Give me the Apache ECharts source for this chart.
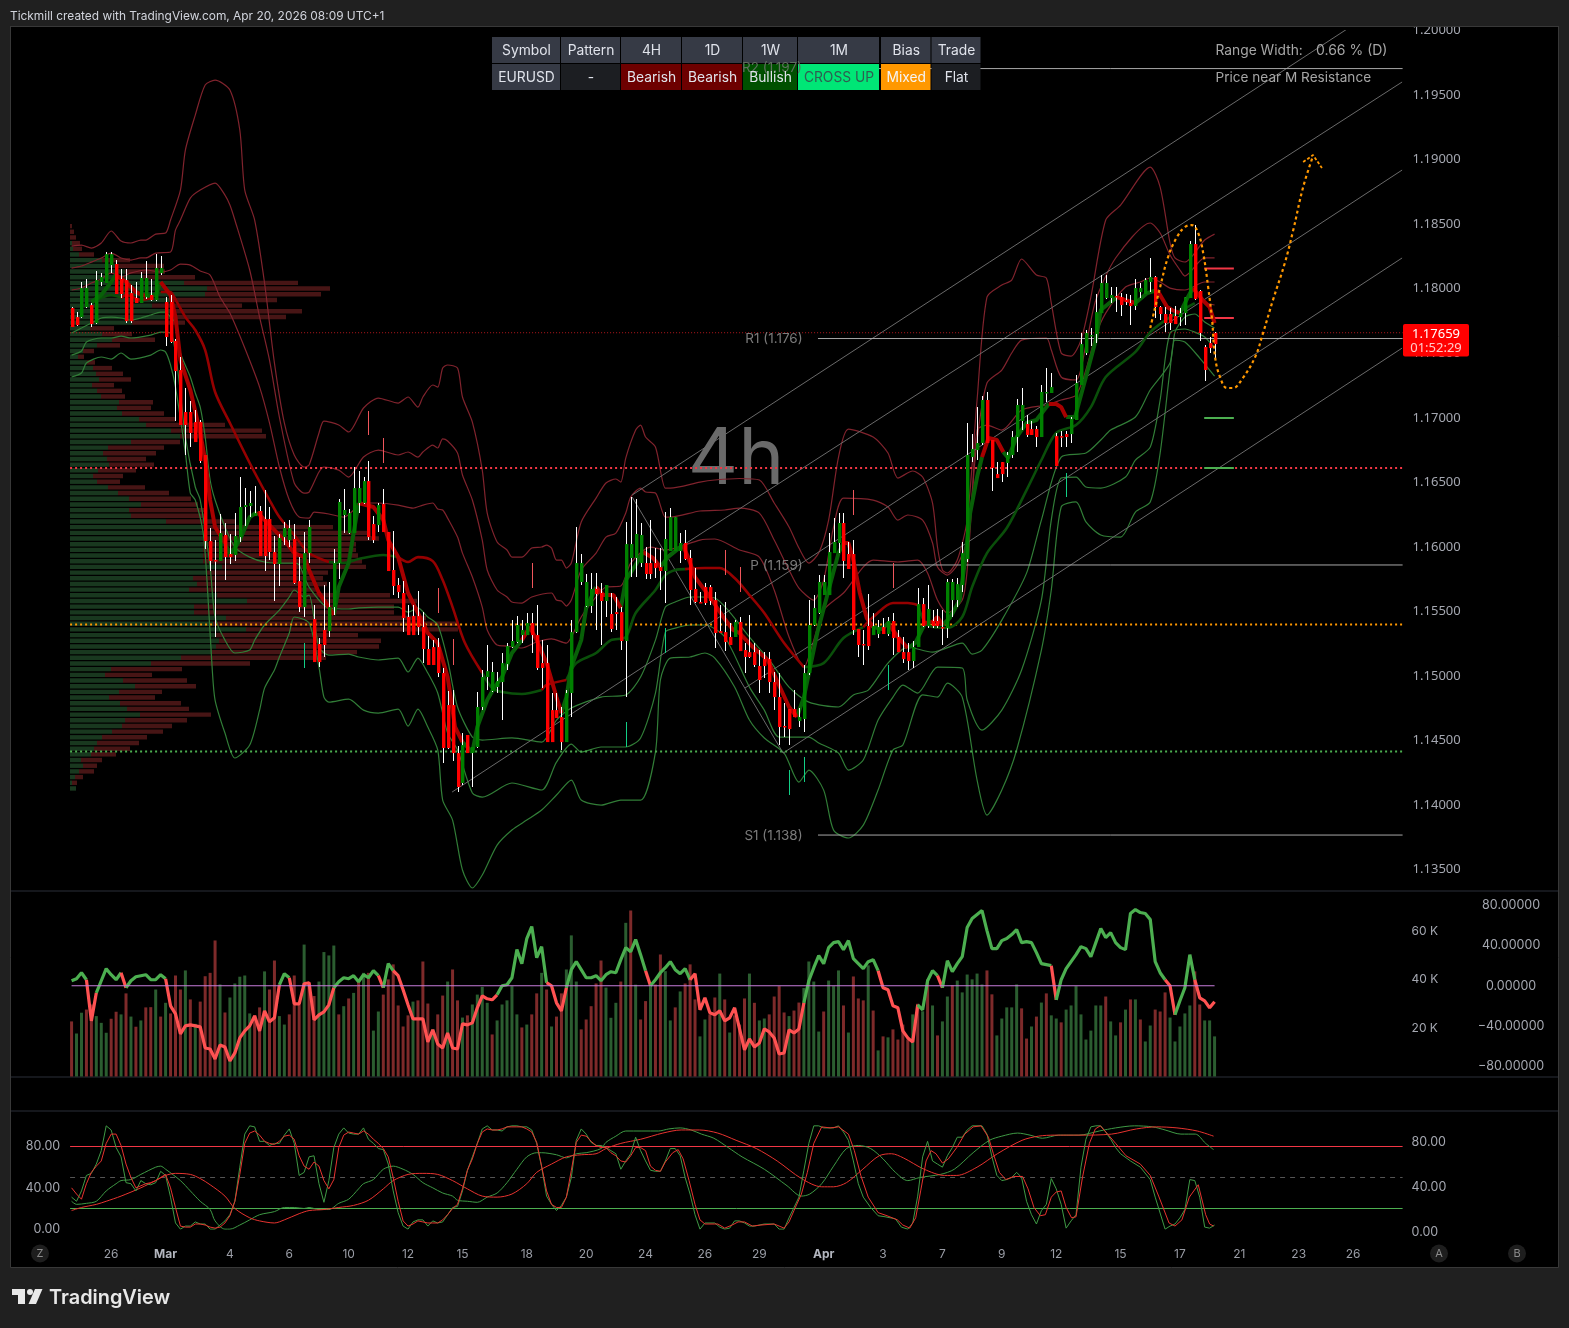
<!DOCTYPE html>
<html><head><meta charset="utf-8"><title>EURUSD 4h</title>
<style>html,body{margin:0;padding:0;background:#202020}#c{width:1569px;height:1328px}</style>
<script src="https://cdn.jsdelivr.net/npm/echarts@6/dist/echarts.min.js"></script></head>
<body><div id="c"></div>
<script>
// [open, high, low, close] per 4h bar
const candles=[
[1.17850,1.17858,1.17703,1.17703],[1.17780,1.17819,1.17711,1.17718],[1.17780,1.18052,1.17773,1.18005],[1.17858,1.18075,1.17850,1.18005],[1.17873,1.17889,1.17703,1.17726],
[1.17734,1.18137,1.17726,1.18067],[1.18052,1.18121,1.18021,1.18090],[1.18044,1.18284,1.18044,1.18268],[1.18183,1.18284,1.18121,1.18268],[1.18191,1.18222,1.17959,1.17959],
[1.18075,1.18152,1.17928,1.17959],[1.18067,1.18152,1.17734,1.17749],[1.17966,1.18029,1.17734,1.17749],[1.17928,1.18052,1.17889,1.17889],[1.17889,1.18129,1.17889,1.18083],
[1.17935,1.18214,1.17920,1.18083],[1.17951,1.18075,1.17905,1.17912],[1.17912,1.18268,1.17905,1.18160],[1.18121,1.18253,1.18106,1.18160],[1.17897,1.17935,1.17556,1.17626],
[1.17897,1.17951,1.17579,1.17587],[1.17595,1.17610,1.16975,1.17362],[1.17370,1.17471,1.16944,1.16944],[1.17045,1.17231,1.16712,1.16944],[1.17045,1.17130,1.16774,1.16882],
[1.16967,1.17060,1.16812,1.16812],[1.16967,1.16983,1.16650,1.16665],[1.16712,1.16712,1.15983,1.16045],[1.16045,1.16146,1.15813,1.15891],[1.15898,1.16053,1.15302,1.15891],
[1.15891,1.16254,1.15891,1.16107],[1.16092,1.16185,1.15743,1.15921],[1.15945,1.16100,1.15867,1.15921],[1.15937,1.16262,1.15891,1.16084],[1.16076,1.16541,1.16038,1.16309],
[1.16309,1.16456,1.16162,1.16324],[1.16317,1.16433,1.16231,1.16340],[1.16239,1.16471,1.16239,1.16262],[1.16278,1.16317,1.15929,1.15929],[1.16216,1.16440,1.15813,1.15929],
[1.16216,1.16309,1.15898,1.15960],[1.15960,1.16084,1.15581,1.15867],[1.15867,1.16100,1.15697,1.16069],[1.16076,1.16193,1.16014,1.16146],[1.16053,1.16208,1.15999,1.16146],
[1.16061,1.16177,1.15712,1.15720],[1.15735,1.15921,1.15495,1.15534],[1.15534,1.16115,1.15457,1.15952],[1.15952,1.16208,1.15875,1.16154],[1.15441,1.15550,1.15108,1.15108],
[1.15248,1.15294,1.15069,1.15108],[1.15356,1.15705,1.15147,1.15240],[1.15348,1.15728,1.15302,1.15534],[1.15534,1.15984,1.15472,1.15875],[1.15875,1.16371,1.15751,1.16348],
[1.16247,1.16448,1.16107,1.16286],[1.16107,1.16293,1.16100,1.16262],[1.16107,1.16618,1.16107,1.16456],[1.16340,1.16588,1.16262,1.16456],[1.16340,1.16541,1.16332,1.16510],
[1.16510,1.16665,1.16053,1.16076],[1.16177,1.16239,1.16030,1.16053],[1.16169,1.16340,1.16115,1.16324],[1.16332,1.16448,1.16115,1.16115],[1.16115,1.16115,1.15813,1.15813],
[1.15821,1.16123,1.15627,1.15697],[1.15705,1.15759,1.15604,1.15650],[1.15643,1.15735,1.15341,1.15449],[1.15457,1.15550,1.15317,1.15317],[1.15464,1.15550,1.15317,1.15317],
[1.15464,1.15658,1.15317,1.15379],[1.15379,1.15495,1.15100,1.15209],[1.15209,1.15310,1.15085,1.15085],[1.15224,1.15278,1.15085,1.15085],[1.15224,1.15294,1.14992,1.15023],
[1.15023,1.15062,1.14326,1.14442],[1.14775,1.14883,1.14434,1.14442],[1.14775,1.14891,1.14341,1.14403],[1.14403,1.14457,1.14101,1.14140],[1.14171,1.14558,1.14155,1.14465],
[1.14543,1.14543,1.14403,1.14403],[1.14403,1.14450,1.14140,1.14450],[1.14450,1.14876,1.14442,1.14760],[1.14760,1.15046,1.14736,1.14992],[1.14992,1.15240,1.14891,1.15038],
[1.14884,1.15108,1.14876,1.15031],[1.14915,1.15031,1.14868,1.14961],[1.14953,1.15178,1.14659,1.15100],[1.15092,1.15255,1.15046,1.15232],[1.15224,1.15433,1.15216,1.15271],
[1.15263,1.15464,1.15255,1.15395],[1.15317,1.15433,1.15255,1.15356],[1.15317,1.15488,1.15317,1.15410],[1.15410,1.15488,1.15178,1.15317],[1.15317,1.15550,1.15046,1.15062],
[1.15100,1.15278,1.14907,1.15062],[1.15100,1.15240,1.14488,1.14488],[1.14736,1.14868,1.14488,1.14488],[1.14736,1.14868,1.14674,1.14674],[1.14682,1.14760,1.14426,1.14488],
[1.14488,1.14891,1.14488,1.14868],[1.14868,1.15433,1.14682,1.15340],[1.15340,1.16154,1.15333,1.15875],[1.15728,1.15945,1.15705,1.15875],[1.15542,1.15790,1.15534,1.15728],
[1.15542,1.15797,1.15488,1.15674],[1.15674,1.15797,1.15356,1.15635],[1.15643,1.15720,1.15240,1.15581],[1.15581,1.15705,1.15457,1.15705],[1.15480,1.15643,1.15341,1.15364],
[1.15495,1.15612,1.15356,1.15480],[1.15495,1.15534,1.15201,1.15271],[1.15271,1.16193,1.14837,1.16022],[1.15914,1.16386,1.15767,1.16022],[1.15914,1.16371,1.15767,1.16100],
[1.15875,1.16185,1.15844,1.16092],[1.15875,1.15999,1.15751,1.15790],[1.15875,1.16208,1.15751,1.15790],[1.15875,1.15991,1.15759,1.15836],[1.15844,1.15991,1.15666,1.15813],
[1.15813,1.16270,1.15565,1.16061],[1.15968,1.16301,1.15968,1.16231],[1.15968,1.16231,1.15968,1.16231],[1.15968,1.16107,1.15875,1.16030],[1.16030,1.16131,1.15898,1.15906],
[1.15914,1.15976,1.15550,1.15666],[1.15674,1.15836,1.15565,1.15573],[1.15573,1.15650,1.15565,1.15565],[1.15689,1.15720,1.15550,1.15565],[1.15689,1.15705,1.15550,1.15581],
[1.15588,1.15650,1.15217,1.15333],[1.15348,1.15550,1.15333,1.15333],[1.15340,1.15573,1.15193,1.15263],[1.15302,1.15410,1.15240,1.15240],[1.15302,1.15433,1.15302,1.15418],
[1.15418,1.15457,1.15193,1.15193],[1.15201,1.15255,1.15023,1.15147],[1.15185,1.15472,1.15139,1.15147],[1.15185,1.15255,1.15069,1.15085],[1.15077,1.15201,1.14868,1.14969],
[1.15131,1.15185,1.14984,1.15077],[1.15131,1.15185,1.14868,1.14953],[1.14953,1.15031,1.14736,1.14837],[1.14837,1.15023,1.14465,1.14605],[1.14613,1.14790,1.14527,1.14605],
[1.14744,1.14744,1.14465,1.14589],[1.14744,1.14891,1.14682,1.14682],[1.14651,1.14752,1.14605,1.14682],[1.14667,1.15085,1.14566,1.15023],[1.15023,1.15588,1.15008,1.15395],
[1.15395,1.15627,1.15387,1.15527],[1.15488,1.15782,1.15480,1.15728],[1.15627,1.15782,1.15627,1.15728],[1.15627,1.16107,1.15627,1.15960],[1.15952,1.16224,1.15952,1.16038],
[1.16030,1.16262,1.15952,1.16185],[1.16185,1.16262,1.15759,1.15891],[1.15945,1.16038,1.15829,1.15829],[1.15945,1.16053,1.15317,1.15356],[1.15364,1.15364,1.15147,1.15240],
[1.15248,1.15356,1.15085,1.15240],[1.15387,1.15635,1.15201,1.15232],[1.15317,1.15488,1.15317,1.15387],[1.15325,1.15433,1.15294,1.15379],[1.15379,1.15449,1.15325,1.15325],
[1.15325,1.15457,1.15310,1.15426],[1.15426,1.15488,1.15162,1.15294],[1.15302,1.15356,1.15185,1.15185],[1.15185,1.15302,1.15100,1.15131],[1.15185,1.15255,1.15046,1.15116],
[1.15116,1.15271,1.15062,1.15224],[1.15224,1.15681,1.15224,1.15557],[1.15557,1.15604,1.15379,1.15387],[1.15387,1.15705,1.15371,1.15519],[1.15426,1.15511,1.15371,1.15387],
[1.15426,1.15519,1.15371,1.15387],[1.15379,1.15511,1.15240,1.15371],[1.15371,1.15751,1.15294,1.15728],[1.15588,1.15751,1.15457,1.15728],[1.15588,1.15759,1.15534,1.15712],
[1.15705,1.16038,1.15650,1.15952],[1.15906,1.16960,1.15883,1.16712],[1.16696,1.16874,1.16657,1.16758],[1.16750,1.17083,1.16673,1.16805],[1.16805,1.17169,1.16789,1.17138],
[1.17138,1.17200,1.16805,1.16805],[1.16828,1.16828,1.16433,1.16611],[1.16564,1.16657,1.16533,1.16533],[1.16657,1.16657,1.16502,1.16564],[1.16650,1.16735,1.16541,1.16712],
[1.16712,1.16897,1.16688,1.16851],[1.16851,1.17145,1.16735,1.17099],[1.16975,1.17231,1.16905,1.17099],[1.16952,1.17021,1.16851,1.16867],[1.16913,1.16975,1.16867,1.16867],
[1.16913,1.16936,1.16774,1.16851],[1.16851,1.17254,1.16851,1.17200],[1.17192,1.17385,1.17122,1.17200],[1.17192,1.17347,1.17192,1.17238],[1.16858,1.16882,1.16626,1.16626],
[1.16858,1.16897,1.16774,1.16851],[1.16874,1.16897,1.16774,1.16851],[1.16874,1.17006,1.16805,1.16991],[1.16983,1.17331,1.16983,1.17269],[1.17254,1.17657,1.17254,1.17571],
[1.17502,1.17680,1.17486,1.17657],[1.17633,1.17695,1.17556,1.17641],[1.17649,1.17959,1.17579,1.17819],[1.17811,1.18106,1.17811,1.18044],[1.17928,1.18106,1.17920,1.18044],
[1.17928,1.18013,1.17889,1.17951],[1.17943,1.18013,1.17819,1.17935],[1.17935,1.17966,1.17788,1.17873],[1.17912,1.17959,1.17873,1.17897],[1.17889,1.17951,1.17718,1.17866],
[1.17866,1.18075,1.17835,1.18005],[1.17974,1.18044,1.17928,1.18005],[1.17959,1.18083,1.17959,1.18067],[1.18052,1.18238,1.17974,1.18090],[1.18090,1.18098,1.17773,1.17858],
[1.17858,1.17866,1.17757,1.17804],[1.17804,1.17858,1.17664,1.17734],[1.17804,1.17850,1.17680,1.17734],[1.17788,1.17866,1.17726,1.17726],[1.17780,1.17850,1.17711,1.17811],
[1.17811,1.17935,1.17718,1.17935],[1.17928,1.18369,1.17928,1.18346],[1.18346,1.18493,1.17912,1.17920],[1.17982,1.17990,1.17595,1.17657],[1.17548,1.17564,1.17285,1.17370],
[1.17579,1.17626,1.17502,1.17540],[1.17657,1.17664,1.17463,1.17571]];

const bandUpperOuter=[[0,1.18330],[2,1.18338],[4,1.18315],[6,1.18354],[8,1.18447],[10,1.18369],[12,1.18354],[14,1.18377],[15,1.18377],[17,1.18423],[19,1.18431],[20,1.18532],[22,1.18764],[23,1.19074],[25,1.19345],[27,1.19578],[29,1.19616],[32,1.19539],[34,1.19229],[35,1.18764],[37,1.18532],[39,1.18044],[41,1.17424],[43,1.16960],[45,1.16712],[47,1.16619],[48,1.16634],[50,1.16882],[51,1.16975],[54,1.16944],[56,1.16890],[59,1.17076],[62,1.17153],[66,1.17114],[68,1.17161],[70,1.17083],[71,1.17161],[73,1.17254],[74,1.17238],[75,1.17385],[76,1.17409],[78,1.17385],[79,1.17161],[81,1.16967],[83,1.16595],[84,1.16262],[86,1.16038],[88,1.15976],[89,1.15921],[91,1.15921],[93,1.15991],[95,1.15999],[96,1.16014],[97,1.15991],[98,1.15898],[99,1.15898],[100,1.15836],[101,1.15875],[103,1.16193],[106,1.16378],[108,1.16495],[110,1.16526],[111,1.16502],[112,1.16688],[114,1.16905],[115,1.16944],[116,1.16851],[118,1.16774],[120,1.16456],[121,1.16456],[127,1.16502],[130,1.16518],[135,1.16530],[139,1.16518],[142,1.16340],[145,1.16154],[147,1.15991],[149,1.15875],[151,1.15952],[153,1.16208],[155,1.16696],[157,1.16913],[162,1.16851],[165,1.16727],[167,1.16533],[170,1.16588],[172,1.16541],[174,1.16340],[175,1.15999],[176,1.15821],[177,1.15798],[179,1.15898],[181,1.16208],[183,1.17138],[185,1.17935],[188,1.18028],[190,1.18067],[192,1.18230],[195,1.18106],[197,1.18083],[198,1.17889],[200,1.17502],[202,1.17478],[204,1.17602],[206,1.17935],[209,1.18532],[212,1.18648],[218,1.18942],[220,1.18787],[222,1.18354],[223,1.18238],[225,1.18207],[229,1.18377],[231,1.18423]];
const bandUpperMiddle=[[0,1.18160],[2,1.18176],[4,1.18206],[6,1.18238],[8,1.18276],[10,1.18238],[12,1.18222],[14,1.18238],[15,1.18238],[17,1.18276],[20,1.18284],[21,1.18454],[22,1.18532],[24,1.18702],[26,1.18764],[29,1.18818],[31,1.18725],[32,1.18648],[33,1.18532],[36,1.18145],[38,1.17780],[40,1.17447],[42,1.17006],[45,1.16495],[47,1.16417],[48,1.16425],[50,1.16580],[51,1.16619],[54,1.16595],[56,1.16541],[59,1.16696],[62,1.16750],[66,1.16712],[68,1.16735],[70,1.16696],[71,1.16735],[73,1.16789],[74,1.16766],[75,1.16836],[76,1.16820],[78,1.16727],[79,1.16557],[81,1.16363],[83,1.16053],[84,1.15821],[86,1.15666],[88,1.15612],[89,1.15573],[91,1.15565],[93,1.15612],[97,1.15643],[98,1.15588],[99,1.15581],[100,1.15542],[101,1.15588],[103,1.15821],[106,1.15952],[108,1.16076],[110,1.16107],[112,1.16262],[113,1.16386],[115,1.16456],[116,1.16425],[118,1.16417],[120,1.16231],[121,1.16231],[127,1.16278],[132,1.16286],[135,1.16301],[139,1.16262],[142,1.16053],[145,1.15821],[147,1.15681],[150,1.15588],[152,1.15743],[154,1.16154],[156,1.16378],[162,1.16363],[165,1.16309],[167,1.16208],[169,1.16247],[172,1.16208],[174,1.16030],[175,1.15844],[177,1.15782],[179,1.15860],[181,1.16053],[183,1.16828],[185,1.17269],[188,1.17370],[190,1.17502],[192,1.17602],[197,1.17618],[198,1.17525],[200,1.17316],[203,1.17293],[205,1.17564],[207,1.17912],[211,1.18238],[218,1.18509],[220,1.18431],[222,1.18261],[224,1.18145],[225,1.18098],[229,1.18238],[231,1.18238]];
const bandUpperInner=[[0,1.17990],[2,1.18005],[4,1.18044],[6,1.18075],[8,1.18122],[10,1.18091],[12,1.18122],[15,1.18145],[18,1.18129],[20,1.18145],[22,1.18191],[24,1.18183],[26,1.18137],[28,1.18106],[30,1.17935],[32,1.17811],[35,1.17540],[38,1.17238],[40,1.16960],[42,1.16619],[44,1.16363],[46,1.16231],[48,1.16223],[49,1.16270],[52,1.16255],[55,1.16231],[59,1.16340],[62,1.16340],[66,1.16324],[69,1.16301],[71,1.16324],[73,1.16340],[74,1.16293],[75,1.16286],[76,1.16223],[78,1.16076],[79,1.15952],[81,1.15767],[83,1.15534],[84,1.15356],[86,1.15240],[88,1.15232],[91,1.15217],[94,1.15263],[97,1.15287],[100,1.15255],[101,1.15302],[103,1.15457],[106,1.15612],[108,1.15689],[111,1.15697],[113,1.15875],[117,1.15999],[120,1.15976],[127,1.16053],[130,1.16061],[135,1.15976],[139,1.15921],[142,1.15666],[145,1.15302],[148,1.15069],[150,1.15278],[152,1.15511],[156,1.15643],[162,1.15898],[167,1.15883],[171,1.15898],[173,1.15798],[175,1.15588],[177,1.15488],[180,1.15588],[181,1.15821],[182,1.16363],[183,1.16905],[185,1.16944],[188,1.16905],[192,1.17060],[197,1.17099],[200,1.17138],[203,1.17176],[205,1.17370],[207,1.17641],[209,1.17811],[213,1.18013],[216,1.18052],[218,1.18083],[220,1.18052],[222,1.18005],[225,1.17990],[229,1.18052],[231,1.18052]];
const bandUpperTail=[[229,1.17889],[231,1.17874]];
const bandLowerInner=[[0,1.17657],[2,1.17695],[4,1.17734],[6,1.17773],[8,1.17780],[10,1.17773],[12,1.17757],[14,1.17773],[16,1.17796],[18,1.17819],[19,1.17819],[20,1.17780],[21,1.17734],[22,1.17502],[24,1.17316],[25,1.17192],[26,1.17083],[27,1.16851],[28,1.16518],[29,1.16363],[31,1.16154],[33,1.15999],[36,1.15921],[39,1.15883],[42,1.15875],[45,1.15875],[46,1.15860],[48,1.15689],[52,1.15527],[56,1.15519],[58,1.15527],[62,1.15534],[66,1.15534],[68,1.15495],[70,1.15527],[72,1.15457],[74,1.15395],[76,1.15124],[78,1.14760],[81,1.14527],[83,1.14504],[89,1.14520],[95,1.14488],[98,1.14659],[101,1.14752],[107,1.14837],[112,1.14853],[115,1.14992],[118,1.15278],[120,1.15534],[122,1.15573],[125,1.15612],[127,1.15612],[130,1.15604],[133,1.15495],[137,1.15302],[141,1.15124],[145,1.14914],[149,1.14798],[155,1.14760],[158,1.14853],[161,1.14891],[165,1.15100],[169,1.15224],[174,1.15185],[180,1.15255],[182,1.15170],[184,1.15201],[188,1.15433],[193,1.15797],[196,1.16208],[200,1.16696],[205,1.16727],[208,1.16828],[210,1.16905],[215,1.17006],[218,1.17215],[222,1.17424],[223,1.17664],[225,1.17780],[227,1.17804],[229,1.17742],[231,1.17695]];
const bandLowerMiddle=[[0,1.17486],[2,1.17517],[3,1.17587],[6,1.17618],[8,1.17618],[10,1.17633],[12,1.17618],[16,1.17641],[18,1.17664],[20,1.17657],[21,1.17502],[22,1.17192],[23,1.16851],[25,1.16464],[26,1.16363],[28,1.15844],[29,1.15457],[31,1.15278],[33,1.15178],[36,1.15201],[37,1.15278],[39,1.15395],[42,1.15511],[44,1.15612],[45,1.15666],[47,1.15612],[48,1.15627],[50,1.15224],[52,1.15162],[56,1.15170],[58,1.15147],[62,1.15124],[66,1.15139],[68,1.15031],[70,1.15139],[72,1.15023],[74,1.14868],[76,1.14558],[78,1.14427],[81,1.14093],[83,1.14062],[89,1.14171],[95,1.14117],[98,1.14333],[101,1.14473],[103,1.14411],[107,1.14450],[112,1.14450],[115,1.14520],[118,1.14868],[120,1.15340],[122,1.15371],[125,1.15395],[128,1.15395],[132,1.15302],[137,1.14914],[140,1.14736],[143,1.14527],[149,1.14527],[151,1.14481],[155,1.14403],[157,1.14271],[160,1.14349],[163,1.14659],[166,1.14837],[168,1.14930],[171,1.14868],[175,1.15069],[180,1.15062],[181,1.14814],[184,1.14581],[188,1.14736],[192,1.15046],[196,1.15588],[198,1.16208],[200,1.16533],[203,1.16541],[205,1.16464],[208,1.16456],[213,1.16541],[215,1.16673],[218,1.16773],[220,1.17138],[222,1.17657],[225,1.17688],[227,1.17664],[229,1.17626],[231,1.17540]];
const bandLowerOuter=[[0,1.17316],[2,1.17347],[3,1.17424],[6,1.17471],[8,1.17455],[10,1.17502],[12,1.17455],[16,1.17486],[18,1.17525],[19,1.17509],[20,1.17409],[21,1.17238],[23,1.16727],[24,1.16417],[25,1.16363],[26.6,1.16107],[27.4,1.15720],[28.4,1.15069],[29,1.14814],[31,1.14558],[33,1.14365],[36,1.14465],[38,1.14736],[39,1.14906],[41,1.15046],[42,1.15147],[44,1.15333],[45,1.15457],[48,1.15410],[50,1.15069],[51,1.14836],[52,1.14798],[56,1.14821],[59,1.14736],[62,1.14713],[66,1.14744],[68,1.14612],[70,1.14744],[72,1.14605],[74,1.14427],[75,1.14039],[77,1.13884],[79,1.13497],[81,1.13358],[83,1.13458],[86,1.13690],[89,1.13807],[92,1.13884],[95,1.13962],[98,1.14078],[101,1.14194],[103,1.14039],[107,1.14000],[111,1.14039],[115,1.14039],[118,1.14411],[119,1.14969],[121,1.15139],[125,1.15147],[128,1.15178],[130,1.15139],[134,1.14915],[137,1.14659],[140,1.14520],[144,1.14403],[147,1.14178],[149,1.14271],[152,1.14116],[154,1.13806],[157,1.13745],[160,1.13845],[163,1.14117],[166,1.14427],[168,1.14465],[172,1.14854],[175,1.14837],[177,1.14945],[180,1.14836],[183,1.14194],[185,1.13923],[188,1.14117],[191,1.14427],[196,1.15201],[198,1.15666],[200,1.16309],[203,1.16348],[205,1.16193],[208,1.16092],[212,1.16076],[215,1.16270],[218,1.16348],[220,1.16727],[222,1.17370],[223,1.17602],[225,1.17587],[228,1.17463],[231,1.17323]];

const slowMaUp=[
[[4,1.17889],[6,1.17928],[8,1.17951],[10,1.17928]],
[[16,1.17928],[18,1.17974]],
[[52,1.15883],[55,1.15875],[58,1.15906],[63,1.15937],[66,1.15921]],
[[83,1.15023],[85,1.14907],[87,1.14876],[91,1.14860],[95,1.14891]],
[[100,1.14969],[102,1.15100],[106,1.15178],[109,1.15278],[112,1.15302],[114,1.15488],[118,1.15666],[120,1.15782],[122,1.15821],[124,1.15828]],
[[148,1.15069],[152,1.15100],[156,1.15294],[160,1.15379]],
[[171,1.15550],[173,1.15395],[177,1.15372],[180,1.15457],[182,1.15689],[185,1.15952],[189,1.16146],[193,1.16440],[196,1.16673],[199,1.16882],[203,1.16944],[206,1.17083],[209,1.17316],[215,1.17510],[218,1.17664],[222,1.17780],[227,1.17889]]];
const slowMaDown=[
[[10,1.17928],[11,1.17951],[14,1.17912],[16,1.17928]],
[[18,1.17974],[20,1.17974],[20.5,1.17951],[23,1.17780],[25,1.17680],[27,1.17525],[29,1.17200],[32,1.16960],[36,1.16650],[40,1.16363],[42,1.16231],[45,1.16092],[48,1.15952],[52,1.15883]],
[[66,1.15921],[68,1.15883],[70,1.15921],[73,1.15890],[75,1.15743],[77,1.15534],[79.5,1.15255],[83,1.15023]],
[[95,1.14891],[96,1.14930],[100,1.14969]],
[[124,1.15828],[128,1.15836],[131,1.15836],[134,1.15759],[137,1.15627],[140,1.15488],[144,1.15255],[148,1.15069]],
[[160,1.15379],[162,1.15457],[166,1.15565],[169,1.15565],[171,1.15550]]];
const fastMaUp=[
[[4,1.17897],[6,1.17951],[8,1.18052],[9,1.18106]],
[[15,1.17943],[17,1.17951],[18,1.18052]],
[[31,1.16030],[32,1.15937],[34,1.16053],[36,1.16231],[37.5,1.16270]],
[[53,1.15472],[54,1.15689],[56,1.15875],[57,1.16107],[58,1.16340]],
[[79,1.14488],[81,1.14411],[82,1.14605],[84,1.14814],[85.5,1.14915],[87,1.14992],[89,1.15178],[91,1.15278]],
[[99,1.14713],[100,1.14837],[101,1.15069],[103,1.15278],[104,1.15527],[106,1.15689]],
[[111,1.15527],[112,1.15743],[114,1.15860],[115.5,1.15960]],
[[119,1.15844],[120.5,1.15921],[123.5,1.16014]],
[[146.6,1.14682],[148,1.14837],[150.7,1.15333],[153,1.15666],[155,1.15952],[156,1.16030]],
[[162,1.15379],[163.8,1.15364],[165,1.15410]],
[[169,1.15216],[170.5,1.15255],[172.5,1.15410]],
[[176,1.15395],[177.5,1.15449],[179.5,1.15588],[180.5,1.15875],[181.6,1.16262],[183,1.16541],[184,1.16696]],
[[188.3,1.16735],[189.3,1.16688],[191,1.16851],[193,1.16960],[195,1.16983],[197.5,1.17107]],
[[201,1.17006],[202.8,1.17006],[205,1.17316],[207,1.17602],[208,1.17835],[210,1.17897],[211.3,1.17935]],
[[215,1.17889],[217.4,1.17966],[219.4,1.17990]],
[[224,1.17811],[225.6,1.17935],[226.6,1.18005]]];
const fastMaDown=[
[[9,1.18106],[11,1.18052],[13,1.17974],[15,1.17943]],
[[18,1.18052],[20,1.17951],[21,1.17780],[22,1.17447],[24,1.17215],[26,1.16882],[27,1.16673],[28,1.16363],[29,1.16154],[31,1.16030]],
[[37.5,1.16270],[40,1.16169],[43,1.16053],[45,1.15952],[47,1.15921],[48,1.15821],[50,1.15643],[52,1.15534],[53,1.15472]],
[[58,1.16340],[61,1.16309],[63,1.16208],[64,1.16053],[66,1.15921],[68,1.15643],[70,1.15488],[72,1.15333],[74,1.15255],[76,1.14992],[77.5,1.14605],[79,1.14488]],
[[91,1.15278],[92.6,1.15379],[94,1.15278],[96,1.15100],[98,1.14837],[99,1.14713]],
[[106,1.15689],[107.5,1.15627],[109.5,1.15627],[111,1.15527]],
[[115.5,1.15960],[117.5,1.15914],[119,1.15844]],
[[123.5,1.16014],[124.6,1.15921],[126,1.15766],[129,1.15612],[131.7,1.15457],[133.7,1.15356],[135,1.15333],[137.7,1.15224],[140.7,1.15124],[142.5,1.14969],[145,1.14760],[146.6,1.14682]],
[[156,1.16030],[157,1.16030],[158,1.15898],[159.3,1.15643],[160.7,1.15449],[162,1.15379]],
[[165,1.15410],[167,1.15302],[169,1.15216]],
[[172.5,1.15410],[174,1.15418],[175,1.15457],[176,1.15395]],
[[184,1.16696],[185.3,1.16843],[187,1.16828],[188.3,1.16735]],
[[197.5,1.17107],[199,1.17107],[200,1.17083],[201,1.17006]],
[[211.3,1.17935],[213,1.17912],[215,1.17889]],
[[219.4,1.17990],[221.4,1.17858],[222.4,1.17835],[224,1.17811]],
[[226.6,1.18005],[228.6,1.17912],[230,1.17858],[231,1.17734]]];

const channelLines=[
[[113.3,1.16402],[258.4,1.20027]],
[[120.5,1.15937],[268.9,1.19601]],
[[76.9,1.14101],[268.9,1.18919]],
[[136.1,1.14907],[268.9,1.18238]],
[[143.8,1.14403],[268.9,1.17540]],
[[113.3,1.16386],[143.8,1.14403]]];
const projection=[[218,1.17695],[220,1.18013],[221.6,1.18245],[223.4,1.18400],[225,1.18478],[226.4,1.18493],[227.7,1.18431],[228.7,1.18276],[229.7,1.18013],[230.5,1.17757],[231.1,1.17471],[232.1,1.17316],[233.5,1.17231],[234.7,1.17231],[236.7,1.17308],[239.2,1.17471],[240.8,1.17657],[242.8,1.17912],[245.2,1.18199],[246.9,1.18454],[248.9,1.18787],[250.9,1.19028]];
const projectionArrow=[[248.9,1.18981],[250.9,1.19035],[252.7,1.18935]];
const pivotPrices=[1.19705,1.17614,1.15860,1.13768];
const pivotNames=['R2 (1.197)','R1 (1.176)','P (1.159)','S1 (1.138)'];
const dottedLevels=[1.16611,1.15399,1.14415];
const lastPrice=1.17659;
const targetsRed=[1.18156,1.17773];
const targetsGreen=[1.16998,1.16611];
// bar, top price, bottom price
const salmonSignals=[[60,1.17052,1.16867],[63,1.16843,1.16650],[74,1.15681,1.15488],[77,1.15286,1.15085],[93,1.15875,1.15681],[132,1.15976,1.15782],[135,1.15844,1.15650],[158,1.16440,1.16247],[166,1.15875,1.15681]];
const tealSignals=[[47,1.15255,1.15062],[112,1.14643,1.14450],[120,1.15371,1.15178],[145,1.14272,1.14078],[148,1.14372,1.14179],[165,1.15085,1.14891],[201,1.16572,1.16386]];

// volume profile rows, top to bottom
const profileTopPrice=1.18485, profileStep=0.00044;
const profileUp=[0,0,0,2,3,9,32,48,55,73,114,137,135,102,82,103,105,62,20,32,42,27,13,8,17,23,26,29,22,27,31,49,47,52,69,76,101,110,61,38,33,37,39,28,23,27,38,48,59,71,59,61,96,133,133,133,133,133,133,133,152,137,123,127,119,147,177,124,124,156,143,176,146,149,146,142,111,81,41,35,53,65,49,39,50,57,70,55,52,42,32,27,24,21,11,13,9,5,2,6];
const profileDown=[2,4,6,8,9,15,28,46,40,52,114,123,116,105,90,129,111,53,24,30,43,23,11,6,8,19,27,32,22,25,24,34,34,42,36,79,91,86,49,56,53,39,45,38,30,23,37,51,62,57,75,76,70,130,167,176,153,153,155,159,144,121,130,130,130,173,170,200,200,200,245,212,142,162,163,145,145,99,71,47,64,61,43,46,61,62,71,62,50,51,45,42,36,25,21,14,15,8,5,0];

// oscillator, one value per bar
const oscillator=[5,7,13,6,-35,-7,5,17,11,6,13,-2,5,9,10,11,6,6,11,7,-20,-28,-48,-40,-39,-40,-41,-62,-63,-73,-59,-61,-75,-67,-52,-45,-40,-30,-45,-25,-36,-32,1,12,8,-18,-18,2,3,-34,-29,-26,-19,-2,4,8,7,10,4,11,8,15,10,-2,22,15,10,-4,-19,-33,-33,-33,-56,-44,-58,-62,-47,-62,-63,-38,-39,-37,-22,-10,-13,-14,-9,0,1,8,36,22,47,59,28,39,3,0,-17,-25,-2,16,24,16,8,8,10,5,11,14,13,26,38,34,46,31,15,0,6,13,18,24,16,12,17,6,12,-24,-12,-27,-29,-25,-35,-32,-22,-43,-64,-53,-61,-57,-43,-46,-52,-68,-67,-44,-47,-43,-17,5,18,30,22,38,43,44,36,45,27,22,17,24,26,15,-2,-4,-20,-22,-45,-52,-56,-19,-24,5,15,10,-2,25,14,22,29,58,67,71,75,55,37,37,45,47,51,56,43,44,43,33,22,21,20,-14,6,17,24,31,39,37,29,43,57,48,53,43,38,36,72,76,73,72,66,24,13,6,0,-29,-15,-2,31,6,-12,-15,-22,-16];
const oscillatorFalling=[[3,5],[10,11],[19,42],[44,53],[62,63],[65,86],[96,100],[116,117],[125,148],[163,171],[175,176],[198,199],[221,223],[227,231]];
// volume in thousands
const volumes=[22.8,17.8,26.4,27.7,29.8,25,22.2,18.1,23.9,26.8,25.7,34.4,24.8,20.6,23.2,28.6,28.7,36,24.8,30.5,26.1,41.8,36,43.9,31.9,21.8,31,41.5,42.9,56.3,38.1,26.5,32.7,38.5,41.3,41.8,26.1,25.3,28.6,43.5,36,48,25,21.5,25.7,41.8,29.8,54.6,38.8,33.3,39.3,51.5,50.1,54.2,25.7,29.1,32.3,34.6,39.3,42.9,42.9,19,26.9,33.9,40.2,46.4,29.4,20.7,25.3,31,31.5,47.6,30.2,19.5,25.7,33.5,39.3,44.3,31.5,24.4,25.3,29.8,33.9,37.1,30.5,17.4,23.2,29.8,31.5,37.4,25.7,20.3,21.5,25.7,34.4,42.9,36,20.7,24.8,34.4,44.3,58.4,39.3,19.5,23.6,29.1,38.5,48,36.8,24.3,30.5,39.3,63.6,68.7,38,23.6,31.2,37.4,38.1,50.5,43.6,23.2,28.6,35.2,38.5,46.4,31.9,16.6,23.6,25.7,32.7,42.6,31.9,18.2,25.3,21.5,32.3,42.6,30.5,23.2,24,25.7,33.1,37.4,26.5,25,27.3,30.6,36.6,47.6,39.3,18.6,26.9,39.7,37.4,43.9,29.4,18.2,41.4,32.3,31.5,46,27.3,10.8,16.6,16.2,19.5,15.3,21.5,15.3,25.7,30.1,27,40.2,29.4,17,22.8,33.1,37.8,39.7,34.8,42.2,40.2,42.6,38.1,43.9,34,17,24,28.6,28.6,38.1,28.2,15.7,20.7,24.8,30.6,34.4,25.3,24,22.4,27.7,29.4,37.4,25.7,15.3,19,29.4,29.4,33.1,22.8,17,22.4,27.7,31.9,31.9,23.6,14.5,21.1,27.7,26.9,34.8,24.4,14.5,20.7,26.1,29.4,43.5,29.8,23.2,23.2,16.6];
const volumeSides='RGGRRGGGRR'+'GRGRGRRGRG'+'RRRGRGRRRR'+'GRGGGGGRRG'+'RRGGRRRGRR'+'GGGGRGRGRG'+'RGGRRRRRRG'+'RRRGRRGRRG'+'RGGGGRGGGG'+'GRGRRGRGRR'+'GGGRRRRRGG'+'GRG'+'RGRRGRR'+'GGRGRRRGGR'+'RGRGRRRGRG'+'GRRRRGRRGG'+'GGRGGGRGRR'+'RGRGRGRRRR'+'GRGRGRGGRG'+'GGGGGRRGGG'+'GGRRGRGRGG'+'RGGGGGGGGR'+'GGRGRGRGGR'+'RRGGGGGRRG'+'GG';

// stochastic pairs [bar, value]
const fastK=[[0,31],[1,27],[2,37],[3,52],[4,54],[5,63],[6,76],[7,100],[8,96],[9,79],[10,70],[11,45],[12,44],[13,37],[14,47],[15,44],[16,43],[17,45],[18,56],[19,52],[20,31],[21,6],[22,0],[23,3],[24,3],[25,7],[26,5],[27,5],[28,0],[29,0],[30,4],[31,8],[32,14],[33,27],[34,60],[35,92],[36,100],[37,99],[38,85],[39,85],[40,81],[41,83],[42,83],[43,91],[44,97],[45,83],[46,52],[47,55],[48,70],[49,71],[50,44],[51,26],[52,47],[53,79],[54,92],[55,98],[56,93],[57,92],[58,92],[59,98],[60,87],[61,83],[62,78],[63,77],[64,63],[65,37],[66,16],[67,3],[68,0],[69,7],[70,9],[71,9],[72,3],[73,8],[74,6],[75,7],[76,14],[77,21],[78,22],[79,37],[80,57],[81,70],[82,83],[83,97],[84,100],[85,96],[86,96],[87,95],[88,99],[89,100],[90,100],[91,99],[92,99],[93,96],[94,83],[95,60],[96,32],[97,24],[98,18],[99,23],[100,31],[101,50],[102,86],[103,97],[104,92],[105,84],[106,81],[107,81],[108,79],[109,76],[110,73],[111,58],[112,66],[113,73],[114,89],[115,76],[116,66],[117,57],[118,56],[119,56],[120,66],[121,78],[122,78],[123,71],[124,50],[125,34],[126,14],[127,0],[128,6],[130,6],[131,2],[132,0],[133,1],[134,8],[135,8],[136,6],[137,3],[138,3],[140,5],[142,5],[143,0],[144,0],[145,11],[146,21],[147,31],[148,57],[149,83],[150,100],[151,100],[152,98],[154,98],[155,100],[156,94],[157,86],[158,66],[159,44],[160,31],[161.5,21],[163,13],[164.4,12],[166.5,10],[167.7,2],[169,0],[170,6],[171,32],[172,70],[173,85],[174,66],[175,63],[176,60],[177,71],[178,79],[179,89],[180,89],[181,96],[182,100],[184,100],[185,92],[186,70],[187,52],[188,47],[189,48],[190,50],[191,55],[192,50],[193,27],[194,14],[195,5],[196,18],[197,24],[198,49],[199,39],[200,24],[201,1],[202,8],[203,14],[204,60],[205,87],[206,99],[207,100],[208,100],[209,94],[210,87],[211,79],[212,73],[214,66],[216,60],[218,48],[219,31],[221,0],[222,3],[223,5],[224,11],[225,19],[226,48],[227,47],[228,31],[229,2],[230,1],[231,4]];
const fastD=[[0,40],[1,34],[2,29],[3,44],[4,55],[5,61],[6,66],[7,83],[8,92],[9,92],[10,81],[11,63],[12,50],[13,40],[14,42],[15,44],[16,45],[17,47],[18,50],[19,53],[20,40],[21,21],[22,3],[23,2],[24,2],[25,5],[26,5],[27,4],[28,2],[29,1],[30,2],[31,6],[32,13],[33,27],[34,53],[35,83],[36,93],[37,95],[38,91],[39,85],[40,83],[41,82],[42,85],[43,90],[44,91],[45,87],[46,71],[47,61],[48,58],[49,65],[50,61],[51,47],[52,39],[53,48],[54,79],[55,91],[56,94],[57,93],[58,92],[59,95],[60,92],[61,87],[62,83],[63,78],[64,70],[65,50],[66,27],[67,8],[68,3],[69,5],[70,8],[71,7],[72,6],[73,6],[74,6],[75,9],[76,14],[77,20],[78,24],[79,39],[80,57],[81,68],[82,83],[83,94],[84,97],[85,96],[86,96],[87,97],[88,99],[89,99],[90,99],[91,99],[92,97],[93,94],[94,84],[95,61],[96,37],[97,24],[98,21],[99,21],[100,31],[101,57],[102,84],[103,91],[104,90],[105,85],[106,81],[107,79],[108,79],[109,74],[110,71],[111,66],[112,65],[113,71],[114,79],[115,79],[116,76],[117,61],[118,57],[119,56],[120,65],[121.5,74],[122.6,77],[123.6,68],[124.8,47],[126,24],[127,9],[128,5],[130,5],[130.6,5],[132,1],[133.5,4],[134.7,7],[136,7],[137.6,3],[139.3,4],[142,5],[144,1],[145,7],[146,18],[147.5,34],[148.7,55],[150,83],[151.6,99],[153.3,98],[155,99],[157,92],[158.2,76],[159.5,52],[161,31],[163,16],[164.8,13],[166.9,9],[168,4],[169.4,1],[170.6,11],[171.6,37],[172.7,66],[173.7,76],[174.7,73],[176,64],[177.2,68],[178.9,79],[180.5,92],[182.2,99],[183.8,100],[185.3,89],[186.3,73],[187.5,55],[188.8,48],[190.4,51],[192.2,51],[193.3,39],[194.5,21],[195.8,13],[196.8,14],[198,31],[199,36],[200,37],[201,21],[202.1,11],[203,12],[204.3,50],[205.7,83],[206.9,97],[207.9,100],[209.4,92],[211,83],[213.1,71],[216,63],[218,52],[219.7,32],[221.8,6],[223,3],[224.4,9],[225.9,31],[227.7,43],[229.2,14],[230,5],[230.8,3]];
const slowK=[[0,27],[1,24],[3,25],[5,27],[7,37],[9,44],[10,47],[12,48],[14,53],[17,60],[18,61],[19,58],[22,47],[24,37],[26,27],[28,19],[29,8],[31,0],[32,0],[34,4],[36,9],[38,14],[41,17],[43,21],[45,21],[47,20],[48,21],[50,19],[52,19],[54,25],[56,29],[58,39],[59,44],[61,48],[63,58],[65,61],[67,58],[69,53],[71,45],[73,40],[75,35],[77,32],[78,28],[80,27],[82,26],[84,31],[86,35],[88,45],[90,58],[92,70],[94,74],[95,74],[98,72],[100,69],[102,73],[104,74],[107,78],[108,84],[110,90],[112,95],[118.6,95],[120.7,97],[123,98],[125.2,96],[127.3,92],[129.8,88],[132.7,79],[135.5,70],[140,58],[144.6,42],[147.5,32],[149.2,34],[151.6,44],[154,61],[156.6,78],[159,81],[161.5,78],[164,68],[166.5,55],[169,47],[171.4,50],[175.6,53],[178.4,58],[182.2,74],[185.5,86],[188,90],[191.2,93],[193.7,91],[196.2,88],[199.5,91],[203.6,91],[207.7,95],[211,98],[214.8,100],[218.5,99],[221,96],[224.2,92],[227.1,92],[229.2,83],[230.8,77]];
const slowD=[[0,18],[2,21],[5,24],[7,27],[10,32],[14,40],[17,47],[19,52],[21,54],[24,53],[26,49],[28,43],[31,32],[33,20],[36,11],[38,8],[41,6],[43,9],[46,15],[48,18],[51,19],[54,21],[57,23],[60,28],[63,39],[65,47],[68,53],[71,54],[74,53],[77,47],[80,39],[83,32],[86,31],[89,34],[92,44],[94,55],[97,63],[100,70],[103,72],[106,73],[108,78],[111,83],[115,87],[119.5,93],[123.2,96],[126.9,96],[130.6,93],[134.3,86],[138.4,78],[142.6,66],[147.5,49],[151.6,41],[154,41],[156.6,45],[159.9,58],[163.2,71],[165.7,73],[168.1,69],[172.3,58],[176.4,52],[178.9,52],[183,60],[187.1,73],[192.1,86],[195.4,90],[198.7,91],[203.6,91],[210.2,92],[215.2,97],[219.3,99],[223.4,98],[227.5,95],[230.8,90]];

const timeTicks={8:'26',19:'Mar',32:'4',44:'6',56:'10',68:'12',79:'15',92:'18',104:'20',116:'24',128:'26',139:'29',152:'Apr',164:'3',176:'7',188:'9',199:'12',212:'15',224:'17',236:'21',248:'23',259:'26'};
const tableHeader=['Symbol','Pattern','4H','1D','1W','1M','Bias','Trade'];
const tableRow=['EURUSD','-','Bearish','Bearish','Bullish','CROSS UP','Mixed','Flat'];

// ---------- styling and layout ----------
const FONT='Inter, "Noto Sans", sans-serif';
const NUMFONT='"Noto Sans", Inter, sans-serif';
const X0=-12,X1=269,GL=12.2,GW=1390.4;
const C={up:'#008000',dn:'#ff0000',bandR:'#80232d',bandG:'#317d37'};
const xBase={type:'value',min:X0,max:X1,show:false};
const grids=[
 {left:GL,width:GW,top:30.5,height:903.7},
 {left:GL,width:GW,top:905.5,height:160.5},
 {left:GL,width:GW,top:883.2,height:193.3},
 {left:GL,width:GW,top:1105.17,height:124},
 {left:GL,width:GW,top:1097,height:135}];
const labelColor='#a4a7b0';
function yLabel(extra){return Object.assign({color:labelColor,fontFamily:FONT,fontSize:12.5,padding:[2,0,0,0]},extra);}
const yBase={type:'value',axisLine:{show:false},axisTick:{show:false},splitLine:{show:false},position:'right'};
const series=[];
function line(data,color,width,z,o){
 series.push(Object.assign({type:'line',data,showSymbol:false,symbol:'none',silent:true,z,animation:false,
  lineStyle:Object.assign({color,width},(o&&o.ls)||{}),xAxisIndex:(o&&o.xi)||0,yAxisIndex:(o&&o.yi)||0,smooth:(o&&o.smooth)||false},o&&o.extra||{}));
}
// profile
const profileData=profileUp.map((g,k)=>[profileTopPrice-k*profileStep,g,profileDown[k]]);
series.push({type:'custom',xAxisIndex:1,yAxisIndex:0,z:1,silent:true,animation:false,
 data:profileData,encode:{x:1,y:0},clip:false,
 renderItem(p,api){
  const price=api.value(0),g=api.value(1),r=api.value(2);
  const a=api.coord([0,price]),b=api.coord([g,price]),c=api.coord([g+r,price]);
  const h=4.4,y=a[1]-h/2;
  return {type:'group',children:[
   {type:'rect',shape:{x:a[0],y,width:b[0]-a[0],height:h},style:{fill:'#19381f'}},
   {type:'rect',shape:{x:b[0],y,width:c[0]-b[0],height:h},style:{fill:'#471515'}}]};
 }});
// bands
const bandOpt={smooth:0.25};
[bandUpperOuter,bandUpperMiddle,bandUpperInner,bandUpperTail].forEach(d=>line(d,C.bandR,1.2,2,bandOpt));
[bandLowerInner,bandLowerMiddle,bandLowerOuter].forEach(d=>line(d,C.bandG,1.2,2,bandOpt));
// channel
channelLines.forEach(d=>line(d,'#6a6a6a',1,2.2));
// pivots and levels
const lvlEnd=269,pvStart=150.85;
pivotPrices.forEach(p=>line([[pvStart,p],[lvlEnd,p]],'#a8a8a8',1,2.3));
const dottedCol=['#f23645','#ff9800','#4caf50'];
dottedLevels.forEach((p,k)=>line([[-0.3,p],[lvlEnd,p]],dottedCol[k],2,2.4,{ls:{type:[2,3]}}));
line([[-0.3,lastPrice],[lvlEnd,lastPrice]],'#b3171c',1,2.4,{ls:{type:[1,2]}});
targetsRed.forEach(p=>line([[228.9,p],[234.9,p]],'#f23645',2,2.5));
targetsGreen.forEach(p=>line([[228.9,p],[234.9,p]],'#4caf50',2,2.5));
// moving averages
slowMaUp.forEach(d=>line(d,'#0a4f0a',2.6,3,{smooth:0.3}));
slowMaDown.forEach(d=>line(d,'#960000',2.6,3,{smooth:0.3}));
fastMaUp.forEach(d=>line(d,'#086008',4,3.1));
fastMaDown.forEach(d=>line(d,'#a80000',4,3.1));
// signals
function signals(list,fill){
 series.push({type:'custom',z:3.5,silent:true,animation:false,data:list,encode:{x:0,y:[1,2]},
 renderItem(p,api){const a=api.coord([api.value(0),api.value(1)]),b=api.coord([api.value(0),api.value(2)]);
  return {type:'rect',shape:{x:Math.round(a[0]),y:a[1],width:1,height:b[1]-a[1]},style:{fill}};}});
}
signals(salmonSignals,'#f0565c');signals(tealSignals,'#12cf86');
// candles
series.push({type:'custom',z:4,silent:true,animation:false,
 data:candles.map((r,i)=>[i,r[0],r[1],r[2],r[3]]),encode:{x:0,y:[1,2,3,4]},
 renderItem(p,api){
  const i=api.value(0),o=api.value(1),h=api.value(2),l=api.value(3),c=api.value(4);
  const x=Math.round(api.coord([i,o])[0]);
  const yh=api.coord([i,h])[1],yl=api.coord([i,l])[1],yo=api.coord([i,o])[1],yc=api.coord([i,c])[1];
  const t=Math.min(yo,yc),b=Math.max(yo,yc);
  return {type:'group',children:[
   {type:'rect',shape:{x,y:yh,width:1,height:yl-yh},style:{fill:'#ffffff'}},
   {type:'rect',shape:{x:x-1,y:t,width:3.4,height:Math.max(1.5,b-t)},style:{fill:c>=o?C.up:C.dn}}]};
 }});
// projection
line(projection,'#ff9800',2.2,5,{smooth:0.4,ls:{type:[3,3]}});
line(projectionArrow,'#ff9800',1.8,5,{ls:{type:[3,2]}});
// volume
series.push({type:'bar',xAxisIndex:3,yAxisIndex:2,z:1,barWidth:3,silent:true,animation:false,
 data:volumes.map((v,i)=>[i,v]),
 itemStyle:{color:p=>volumeSides[p.dataIndex]==='R'?'#7e2a2a':'#2b5d30'}});
// oscillator
const oscAll=oscillator.map((v,i)=>[i,v]);
let cursor=0;
oscillatorFalling.forEach(([a,b])=>{
 if(a>cursor)line(oscAll.slice(cursor,a+1),'#4caf50',3.2,2,{xi:2,yi:1});
 line(oscAll.slice(a,b+1),'#ff5252',3.2,2,{xi:2,yi:1});
 cursor=b;
});
if(cursor<oscAll.length-1)line(oscAll.slice(cursor),'#4caf50',3.2,2,{xi:2,yi:1});
line([[0,0],[231,0]],'#c77ddb',1,3,{xi:2,yi:1});
// stochastics
const stoOpt={xi:4,yi:3};
[[80,'#f23645'],[20,'#4caf50']].forEach(([v,c])=>line([[-0.3,v],[lvlEnd,v]],c,1,1,stoOpt));
line([[-0.3,50],[lvlEnd,50]],'#555',1,1,{xi:4,yi:3,ls:{type:[5,5]}});
line(slowK,'#3f9a45',1,2,{xi:4,yi:3,smooth:0.3});
line(slowD,'#e8332f',1,2,{xi:4,yi:3,smooth:0.3});
line(fastK,'#3f9a45',1,2,stoOpt);
line(fastD,'#e8332f',1,2,stoOpt);

// graphics
const g=[];
const rect=(x,y,w,h,fill,z,extra)=>g.push(Object.assign({type:'rect',silent:true,z,shape:{x,y,width:w,height:h},style:{fill}},extra||{}));
const text=(x,y,t,o)=>g.push({type:'text',silent:true,z:o.z||60,x,y,style:{text:t,fill:o.fill||'#d1d4dc',font:(o.weight||400)+' '+(o.size||13)+'px '+(o.family||FONT),textAlign:o.align||'left',textVerticalAlign:'middle',opacity:o.opacity==null?1:o.opacity}});
rect(10.5,26.5,1548,1241,'#000',-10,{style:{fill:'#000',stroke:'#383838',lineWidth:1}});
[890.5,1076.5,1110.5].forEach(y=>rect(11,y,1547,1,'#2a2e39',-5));
rect(0,0,1569,26,'#202020',40);
rect(10,26,1549,1,'#383838',41);
text(10,16,'Tickmill created with TradingView.com, Apr 20, 2026 08:09 UTC+1',{size:11.9,fill:'#d1d4dc',z:45});
text(736,461,'4h',{size:78,align:'center',fill:'#6a6a6a',z:0.5,weight:400});
// table
const cols=[[492,68],[561,59],[621,60],[682,60],[743,54],[798,81],[881,49.5],[931.5,49]];
const fills=['#363a45','#1c1e22','#6d0000','#6d0000','#005000','#00e676','#ff9800','#1c1e22'];
const fg=['#e0e3eb','#e0e3eb','#e0e3eb','#e0e3eb','#e0e3eb','#2f5e52','#f5f5f5','#e0e3eb'];
cols.forEach(([x,w],k)=>{
 rect(x,37,w,26,'#363a45',50); rect(x,64,w,26,fills[k],50);
 text(x+w/2+0.5,50.5,tableHeader[k],{size:13.8,align:'center',fill:'#e0e3eb'});
 text(x+w/2+0.5,77.5,tableRow[k],{size:13.8,align:'center',fill:fg[k]});
});
text(1215.5,50.5,'Range Width:',{size:13.8,fill:'#a6a6a6'});
text(1316,50.5,'0.66 % (D)',{size:14,fill:'#a6a6a6'});
text(1215.5,77.5,'Price near M Resistance',{size:13.6,fill:'#a6a6a6'});
// pivot names
const pvY=[68,338.5,565.5,835.5],pvX=[772,774,776.5,773.5];
pivotNames.forEach((t,k)=>text(pvX[k],pvY[k],t,{size:13.5,align:'center',fill:k==0?'#5f6f5f':'#7b7b7b',z:55}));
// last price
g.push({type:'rect',silent:true,z:50,shape:{x:1403,y:324,width:66,height:32.5,r:2},style:{fill:'#ff0000'}});
text(1436,334,lastPrice.toFixed(5),{size:13,align:'center',fill:'#ffffff',family:NUMFONT});
text(1436,348,'01:52:29',{size:13,align:'center',fill:'#ffc9c9',family:NUMFONT});
// scale buttons
[[40,'Z'],[1439,'A'],[1517,'B']].forEach(([x,t])=>{
 g.push({type:'circle',silent:true,z:30,shape:{cx:x,cy:1253.5,r:9},style:{fill:'#1e1e1e'}});
 text(x,1254,t,{size:11,align:'center',fill:'#8c8c8c',z:31});
});
// logo
g.push({type:'polygon',silent:true,z:30,shape:{points:[[12,1289],[25,1289],[25,1304],[18,1304],[18,1295],[12,1295]]},style:{fill:'#e8e8e8'}});
g.push({type:'circle',silent:true,z:30,shape:{cx:30,cy:1292,r:3},style:{fill:'#e8e8e8'}});
g.push({type:'polygon',silent:true,z:30,shape:{points:[[35,1289],[42.5,1289],[36,1304],[28.5,1304]]},style:{fill:'#e8e8e8'}});
text(49,1298.5,'TradingView',{size:19.9,fill:'#e8e8e8',weight:600,z:30});

const minusFmt=v=>v.toFixed(5).replace('-','\u2212');
const chart=echarts.init(document.getElementById('c'),null,{renderer:'canvas'});
chart.setOption({
 backgroundColor:'#202020',animation:false,grid:grids,
 xAxis:[
  Object.assign({},xBase,{gridIndex:0}),
  {type:'value',gridIndex:0,show:false,min:-57.8,max:1332.6},
  Object.assign({},xBase,{gridIndex:1}),
  Object.assign({},xBase,{gridIndex:2}),
  {type:'value',gridIndex:3,min:X0,max:X1,interval:1,position:'bottom',axisLine:{show:false},axisTick:{show:false},splitLine:{show:false},
   axisLabel:{margin:19.5,showMinLabel:true,showMaxLabel:true,color:'#9a9da6',fontFamily:FONT,fontSize:12,
    formatter:v=>{const t=timeTicks[v];if(!t)return'';return(t==='Mar'||t==='Apr')?'{b|'+t+'}':t;},
    rich:{b:{fontWeight:700,color:'#b2b5be',fontFamily:FONT,fontSize:12}}}},
  Object.assign({},xBase,{gridIndex:4})],
 yAxis:[
  Object.assign({},yBase,{gridIndex:0,min:1.13,max:1.2,interval:0.005,axisLabel:yLabel({margin:10,fontFamily:NUMFONT,fontSize:13,showMinLabel:false,formatter:v=>v.toFixed(5)})}),
  Object.assign({},yBase,{gridIndex:1,min:-80,max:80,interval:40,axisLabel:yLabel({margin:108.5,align:'center',formatter:minusFmt})}),
  Object.assign({},yBase,{gridIndex:2,min:0,max:80,interval:20,axisLabel:yLabel({margin:9,fontSize:12,showMinLabel:false,showMaxLabel:false,formatter:v=>v+' K'})}),
  Object.assign({},yBase,{gridIndex:3,position:'left',min:0,max:120,interval:40,axisLabel:yLabel({inside:true,margin:48,align:'right',padding:0,showMaxLabel:false,formatter:v=>v.toFixed(2)})}),
  Object.assign({},yBase,{gridIndex:4,min:0,max:120,interval:40,axisLabel:yLabel({margin:9,showMaxLabel:false,formatter:v=>v.toFixed(2)})})],
 series,
 graphic:{elements:g}
});
</script></body></html>
